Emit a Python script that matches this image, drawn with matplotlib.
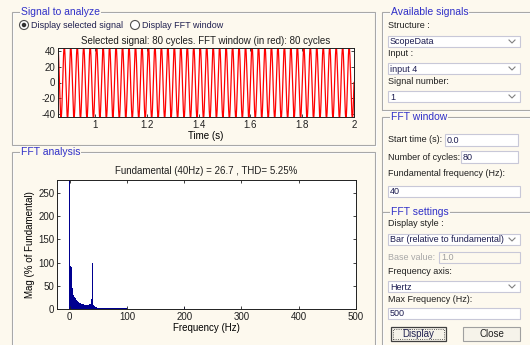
import numpy as np
import matplotlib.pyplot as plt
from matplotlib.patches import Rectangle, Ellipse
from matplotlib.lines import Line2D

W, H = 530, 345
BG = '#fdf9ee'
TITLE_BLUE = '#3030c8'
EDGE = '#a8a8a8'

# Selected signal (fundamental and amplitude of the trace)
fund_hz = 40
sig_amp = 45
t_start, t_end = 0.857, 2.0

# Spectrum, 1 Hz bins from 0 to 100 Hz (% of fundamental)
mag_pct = [480, 300, 92, 90, 48, 45, 36, 31, 28, 26,
           24, 22, 20, 18, 17, 16, 15, 14, 13, 12.5,
           12, 11.5, 11, 10.5, 10, 10, 9.5, 9, 9, 8.5,
           8.5, 8.5, 8.5, 9, 9, 10, 11, 14, 22, 45,
           100, 14, 9, 6, 5, 4, 4, 3.5, 3.5, 3,
           3, 3, 2.8, 2.8, 2.6, 2.6, 2.5, 2.5, 2.5, 2.5,
           2.4, 2.4, 2.4, 2.3, 2.3, 2.3, 2.2, 2.2, 2.2, 2.2,
           2.1, 2.1, 2.1, 2.1, 2, 2, 2, 2, 2, 2,
           2, 2, 2, 2, 2, 2, 2, 2, 2, 2,
           2, 2, 2, 2, 2, 2, 2, 2, 2, 2, 2]
# Isolated harmonics further up
harm_hz = [200, 280]
harm_pct = [4, 2]

title_sig = 'Selected signal: 80 cycles. FFT window (in red): 80 cycles'
title_fft = 'Fundamental (40Hz) = 26.7 , THD= 5.25%'

plt.rcParams['font.family'] = ['Liberation Sans', 'DejaVu Sans']
plt.rcParams['axes.unicode_minus'] = False
fig = plt.figure(figsize=(W / 100, H / 100), dpi=100, facecolor=BG)


def fx(x):
    return x / W


def fy(y):
    return 1 - y / H


def rect(x0, y0, x1, y1, **kw):
    r = Rectangle((fx(x0), fy(y1)), fx(x1 - x0), (y1 - y0) / H,
                  transform=fig.transFigure, **kw)
    fig.add_artist(r)
    return r


def dot(cx, cy, d, **kw):
    fig.add_artist(Ellipse((fx(cx), fy(cy)), d / W, d / H,
                           transform=fig.transFigure, **kw))


def label(x, y, s, **kw):
    kw.setdefault('fontsize', 6.5)
    kw.setdefault('color', '#202020')
    fig.text(fx(x), fy(y), s, va='center', ha=kw.pop('ha', 'left'), **kw)


def panel(x0, y0, x1, y1, title):
    rect(x0 + 1, y0 + 1, x1 + 1, y1 + 1, fill=False, ec='white', lw=0.8)
    rect(x0, y0, x1, y1, fill=False, ec=EDGE, lw=0.8)
    fig.text(fx(x0 + 9), fy(y0), title, va='center', ha='left', fontsize=7.5,
             color=TITLE_BLUE, bbox=dict(fc=BG, ec='none', pad=0.6))


def box(x0, y0, x1, y1, text, combo=False, color='#1c1c50', fc='white'):
    rect(x0, y0, x1, y1, fc=fc, ec='#c8c8d8', lw=0.8)
    label(x0 + 2, (y0 + y1) / 2 + 0.5, text, color=color)
    if combo:
        cx, cy = x1 - 8, (y0 + y1) / 2
        fig.add_artist(Line2D([fx(cx - 3), fx(cx), fx(cx + 3)],
                              [fy(cy - 1.5), fy(cy + 1.5), fy(cy - 1.5)],
                              transform=fig.transFigure, color='#808080', lw=0.8))


# Panels
panel(12, 12, 375, 145, 'Signal to analyze')
panel(12, 152, 375, 360, 'FFT analysis')
panel(382, 12, 540, 110, 'Available signals')
panel(382, 117, 540, 212, 'FFT window')
panel(382, 212, 540, 360, 'FFT settings')

# Radio buttons
for cx, txt, on in [(24, 'Display selected signal', True), (135, 'Display FFT window', False)]:
    dot(cx, 25, 9, fc='white', ec='#505050', lw=0.8)
    if on:
        dot(cx, 25, 4.5, fc='#303030', ec='none')
    label(cx + 7, 25, txt, color='#202050')

# Available signals
label(388, 25, 'Structure :')
box(388, 36, 520, 47, 'ScopeData', combo=True)
label(388, 53, 'Input :')
box(388, 63, 520, 74, 'input 4', combo=True)
label(388, 81, 'Signal number:')
box(388, 91, 520, 102, '1', combo=True)

# FFT window
label(388, 140, 'Start time (s):')
box(445, 134, 518, 146, '0.0')
label(388, 157, 'Number of cycles:')
box(461, 151, 518, 163, '80')
label(388, 174, 'Fundamental frequency (Hz):')
box(388, 186, 520, 197, '40')

# FFT settings
label(388, 224, 'Display style :')
box(388, 234, 520, 245, 'Bar (relative to fundamental)', combo=True)
label(388, 257, 'Base value:', color='#a8a8a8')
box(439, 252, 520, 263, '1.0', color='#a0a0a0', fc=BG)
label(388, 272, 'Frequency axis:')
box(388, 281, 520, 292, 'Hertz', combo=True)
label(388, 300, 'Max Frequency (Hz):')
box(388, 308, 520, 319, '500')

# Buttons
rect(391, 327, 446, 341, fc='#f6f3ea', ec='#404040', lw=0.9)
rect(393, 329, 444, 339, fill=False, ec='#303030', lw=0.6, ls=':')
label(418.5, 334, 'Display', ha='center', fontsize=7, color='#202050')
rect(463, 327, 520, 341, fc='#f6f3ea', ec='#a0a0a0', lw=0.8)
label(491.5, 334, 'Close', ha='center', fontsize=7)

# Signal plot
ax1 = fig.add_axes([fx(58), fy(117), fx(354 - 58), (117 - 48) / H])
t = np.linspace(t_start, t_end, 20000)
ax1.plot(t, sig_amp * np.sin(2 * np.pi * fund_hz * t), color='red', lw=0.9)
ax1.set_xlim(t_start, t_end)
ax1.set_ylim(-43.4, 43.4)
ax1.set_yticks([-40, -20, 0, 20, 40])
ax1.set_xticks([1, 1.2, 1.4, 1.6, 1.8, 2])
ax1.set_xticklabels(['1', '1.2', '1.4', '1.6', '1.8', '2'])
ax1.set_title(title_sig, fontsize=7, pad=3, color='#202020')
ax1.set_xlabel('Time (s)', fontsize=7, labelpad=1)

# FFT plot
ax2 = fig.add_axes([fx(57), fy(309), fx(356 - 57), (309 - 180) / H])
ax2.bar(np.arange(len(mag_pct)), mag_pct, width=1.0, color='#000090', lw=0)
ax2.bar(harm_hz, harm_pct, width=1.5, color='#000090', lw=0)
ax2.set_xlim(-22, 500)
ax2.set_ylim(0, 278)
ax2.set_yticks([0, 50, 100, 150, 200, 250])
ax2.set_xticks([0, 100, 200, 300, 400, 500])
ax2.set_title(title_fft, fontsize=7, pad=4, color='#202020')
ax2.set_xlabel('Frequency (Hz)', fontsize=7, labelpad=1)
ax2.set_ylabel('Mag (% of Fundamental)', fontsize=7, labelpad=2)

for ax in (ax1, ax2):
    ax.set_facecolor('white')
    ax.tick_params(direction='in', top=True, right=True, labelsize=7,
                   length=2.5, width=0.6, pad=2, colors='#202020')
    for s in ax.spines.values():
        s.set_linewidth(0.7)
        s.set_color('#202020')

fig.savefig('out.png', dpi=100, facecolor=BG)
